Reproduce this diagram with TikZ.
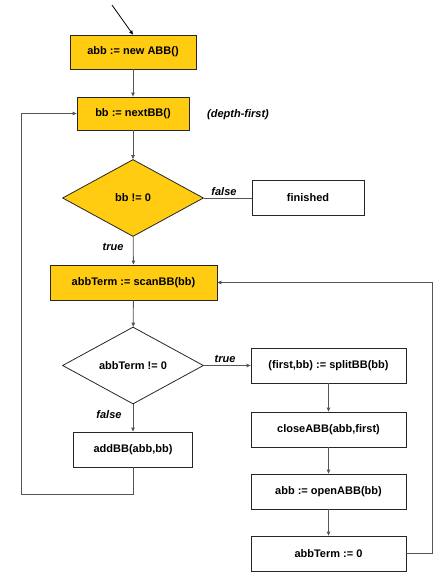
\documentclass[tikz,border=0pt]{standalone}
\usepackage{fontspec}
\setmainfont{Liberation Sans}
\usetikzlibrary{shapes.geometric,arrows.meta}
\definecolor{stepgold}{HTML}{FFCC11}
\definecolor{wire}{HTML}{555555}
\begin{document}
\begin{tikzpicture}[x=1pt,y=-1pt,
  every node/.style={font=\fontsize{11}{13}\selectfont\bfseries},
  stepbox/.style={draw=black!85,line width=0.8pt,rectangle,inner sep=0pt},
  gold/.style={fill=stepgold},
  test/.style={draw=black!85,line width=0.8pt,diamond,inner sep=0pt,
    minimum width=141pt,minimum height=77pt},
  lbl/.style={font=\fontsize{11}{13}\selectfont\bfseries\itshape},
  wireline/.style={draw=wire,line width=0.8pt},
  flow/.style={wireline,-{Triangle[length=4pt,width=3.5pt]}}]
\useasboundingbox (0,0) rectangle (438,572);

% left column
\node[stepbox,gold,minimum width=126pt,minimum height=34pt] (newabb) at (133,52) {abb := new ABB()};
\node[stepbox,gold,minimum width=112pt,minimum height=33pt] (nextbb) at (133,113.5) {bb := nextBB()};
\node[lbl] (depth) at (238,115) {(depth-first)};
\node[test,gold] (bbtest) at (133,198) {bb != 0};
\node[stepbox,minimum width=112pt,minimum height=35pt] (finished) at (308,198) {finished};
\node[stepbox,gold,minimum width=167pt,minimum height=35pt] (scan) at (133.5,282.5) {abbTerm := scanBB(bb)};
\node[test] (termtest) at (133,365.5) {abbTerm != 0};
\node[stepbox,minimum width=119pt,minimum height=35pt] (addbb) at (133,449.5) {addBB(abb,bb)};

% right column
\node[stepbox,minimum width=155pt,minimum height=35pt] (split) at (328.5,365.5) {(first,bb) := splitBB(bb)};
\node[stepbox,minimum width=155pt,minimum height=35pt] (close) at (328.5,429.5) {closeABB(abb,first)};
\node[stepbox,minimum width=155pt,minimum height=35pt] (open) at (328.5,491.5) {abb := openABB(bb)};
\node[stepbox,minimum width=155pt,minimum height=35pt] (zero) at (328.5,553.5) {abbTerm := 0};

% branch labels
\node[lbl] (falseA) at (224,192) {false};
\node[lbl] (trueA) at (113,247) {true};
\node[lbl] (trueB) at (225,359) {true};
\node[lbl] (falseB) at (109,415) {false};

% connectors
\coordinate (entry) at (112,5);
\coordinate (loopA) at (133,494);
\coordinate (loopB) at (21,494);
\coordinate (loopC) at (432,553.5);
\draw[flow,draw=black] (entry) -- (newabb.north);
\draw[flow] (newabb) -- (nextbb);
\draw[flow] (nextbb) -- (bbtest);
\draw[wireline] (bbtest.east) -- (finished.west);
\draw[flow] (bbtest) -- (scan);
\draw[flow] (scan) -- (termtest);
\draw[flow] (termtest.east) -- (split.west);
\draw[flow] (termtest) -- (addbb);
\draw[flow] (split) -- (close);
\draw[flow] (close) -- (open);
\draw[flow] (open) -- (zero);
\draw[flow] (zero.east) -- (loopC) |- (scan.east);
\draw[flow] (addbb.south) -- (loopA) -- (loopB) |- (nextbb.west);
\end{tikzpicture}
\end{document}
